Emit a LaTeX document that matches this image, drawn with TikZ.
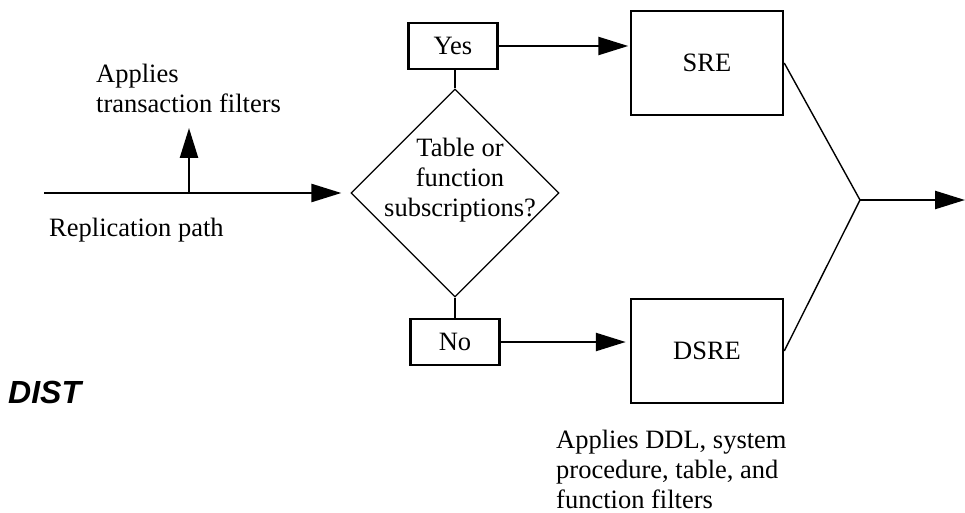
\documentclass[tikz,border=0pt]{standalone}
\usepackage{fontspec}
\setmainfont{Liberation Serif}
\newfontfamily\distfont{Liberation Sans}
\usepackage{tikz}
\usetikzlibrary{arrows.meta,shapes.geometric,positioning}

\tikzset{
  box/.style={draw, line width=2.5pt, inner sep=0pt},
  smallbox/.style={box, minimum width=89pt, minimum height=46pt},
  bigbox/.style={box, minimum width=152pt, minimum height=104pt},
  flow/.style={line width=2.5pt, -{Triangle[length=30pt,width=18pt]}},
  joinline/.style={line width=1.4pt},
}

\begin{document}
\begin{tikzpicture}[x=1pt, y=-1pt, font=\fontsize{26.5}{30}\selectfont]
\useasboundingbox (0,0) rectangle (965,513);

% decision
\node[draw, diamond, line width=1.3pt, minimum width=208pt, minimum height=208pt, inner sep=0pt] (decide) at (455,193) {};
\node[align=center, inner sep=0pt] (question) at (460,180) {Table or\\function\\subscriptions?};
\node[smallbox] (yes) at (453,46) {Yes};
\node[smallbox] (no) at (455,342) {No};
\node[bigbox] (sre) at (707,63) {SRE};
\node[bigbox] (dsre) at (707,351) {DSRE};

% texts (base = last line)
\node[anchor=base west, align=left, inner sep=0pt] (filtertext) at (96,113) {Applies\\transaction filters};
\node[anchor=base west, inner sep=0pt] (pathlabel) at (49,236) {Replication path};
\node[anchor=base west, align=left, inner sep=0pt] (ddltext) at (556,508) {Applies DDL, system\\procedure, table, and\\function filters};
\node[anchor=base west, inner sep=0pt, font=\distfont\bfseries\itshape\fontsize{32}{36}\selectfont] (dist) at (8,403) {DIST};

% replication path
\coordinate (start) at (44,193);
\coordinate (branch) at (189,193);
\coordinate (filtertip) at (189,128);
\draw[flow, shorten >=9pt] (start) -- (decide.west);
\draw[flow] (branch) -- (filtertip);

% yes / no
\draw[line width=2.5pt] (decide.north) -- (decide.north |- yes.south);
\draw[line width=2.5pt] (decide.south) -- (decide.south |- no.north);
\draw[flow, shorten >=1.5pt] (yes.east) -- (yes.east -| sre.west);
\draw[flow, shorten >=4pt] (no.east) -- (no.east -| dsre.west);

% merge
\coordinate (merge) at (860,200);
\coordinate (out) at (965,200);
\draw[joinline] (sre.east) -- (merge) -- (dsre.east);
\draw[flow] (merge) -- (out);
\end{tikzpicture}
\end{document}
